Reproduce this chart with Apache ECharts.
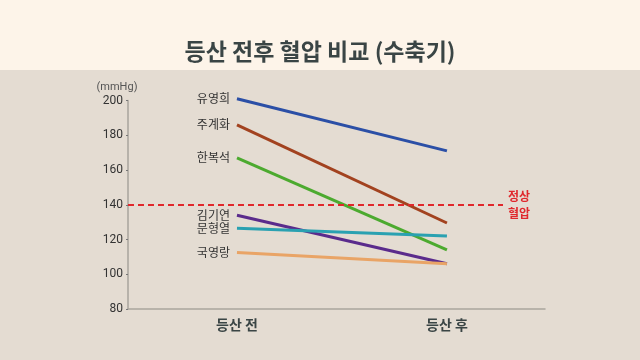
<!DOCTYPE html>
<html>
<head>
<meta charset="utf-8">
<script src="https://cdn.jsdelivr.net/npm/echarts@6/dist/echarts.min.js"></script>
<style>
html,body{margin:0;padding:0;}
#c{width:640px;height:360px;background:linear-gradient(#fdf4e9 0px,#fdf4e9 70px,#e4dcd2 70px,#e4dcd2 360px);}
</style>
</head>
<body>
<div id="c"></div>
<script>
const categories = ['등산 전', '등산 후'];
const names = ['유영희', '주계화', '한복석', '김기연', '문형열', '국영랑'];
const before = [201, 186, 167, 134, 126.5, 112.5];
const after = [171, 129.5, 114, 106, 122, 106];
const colors = ['#2b4fa6', '#a2421f', '#4caa2f', '#5a2b8c', '#2aa1b1', '#e9a466'];
const normalBP = 140;
const yTicks = {min: 80, max: 200, interval: 20};

const X_MIN = -0.519, X_MAX = 1.467, LINE_END = 1.267;
const font = '"Noto Sans CJK KR", "Noto Sans", sans-serif';

const series = names.map((n, i) => ({
  type: 'line',
  name: n,
  data: [[0, before[i]], [1, after[i]]],
  clip: false,
  symbol: 'circle',
  symbolSize: 0,
  showSymbol: true,
  lineStyle: {color: colors[i], width: 3},
  itemStyle: {color: colors[i]},
  label: {
    show: true,
    position: 'left',
    distance: 7,
    formatter: p => p.dataIndex === 0 ? n : '',
    color: '#333',
    fontSize: 12,
    fontFamily: font
  },
  z: 3
}));

series.push({
  type: 'line',
  data: [],
  markLine: {
    silent: true,
    symbol: 'none',
    lineStyle: {color: '#e0282c', type: [6, 4], width: 2},
    label: {
      show: true,
      position: 'end',
      distance: 5,
      formatter: '정상\n혈압',
      color: '#e0282c',
      fontSize: 12,
      fontWeight: 'bold',
      lineHeight: 17,
      fontFamily: font
    },
    data: [[{coord: [X_MIN, normalBP]}, {coord: [LINE_END, normalBP]}]]
  },
  z: 2
});

const chart = echarts.init(document.getElementById('c'));
chart.setOption({
  animation: false,
  title: {
    text: '등산 전후 혈압 비교 (수축기)',
    left: 'center',
    top: 35,
    textStyle: {fontSize: 23, fontWeight: 'bold', color: '#3a4545', fontFamily: font}
  },
  grid: {left: 128, right: 95, top: 100.5, bottom: 51},
  xAxis: {
    type: 'value',
    min: X_MIN,
    max: X_MAX,
    splitLine: {show: false},
    axisLine: {show: true, onZero: false, lineStyle: {color: '#a9a59d', width: 1.5}},
    axisTick: {show: false},
    axisLabel: {
      customValues: [0, 1],
      formatter: v => categories[Math.round(v)],
      margin: 9,
      fontSize: 14,
      fontWeight: 'bold',
      color: '#3a4545',
      fontFamily: font
    }
  },
  yAxis: {
    type: 'value',
    min: yTicks.min,
    max: yTicks.max,
    interval: yTicks.interval,
    name: '(mmHg)',
    nameLocation: 'end',
    nameGap: 8,
    nameTextStyle: {color: '#555', fontSize: 11, fontFamily: 'Roboto, sans-serif', padding: [0, 22, 0, 0]},
    splitLine: {show: false},
    axisLine: {show: true, onZero: false, lineStyle: {color: '#a9a59d', width: 1.5}},
    axisTick: {show: true, length: 2, lineStyle: {color: '#777'}},
    axisLabel: {color: '#333', fontSize: 12, margin: 5, fontFamily: 'Roboto, sans-serif'}
  },
  series: series
});
</script>
</body>
</html>
